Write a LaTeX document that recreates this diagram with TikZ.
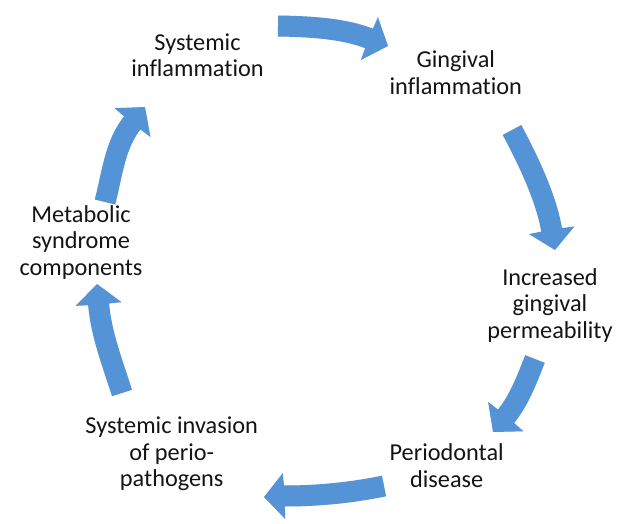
\documentclass[tikz,border=0pt]{standalone}
\usepackage{fontspec}
\setmainfont[Ligatures=NoCommon]{Carlito}
\usetikzlibrary{calc}
\definecolor{arrowblue}{RGB}{84,148,214}
\definecolor{txt}{RGB}{20,20,20}
\newcommand\cycarrow[5]{%
  \begin{scope}[shift={(1.5,2.5)}]
    \draw[shaft, draw=black, opacity=0.12] #1 .. controls #2 and #3 .. #4;
    \fill[black, opacity=0.12] ($#4!23pt!90:#5$) -- #5 -- ($#4!23pt!-90:#5$) -- cycle;
  \end{scope}
  \draw[shaft] #1 .. controls #2 and #3 .. #4;
  \fill[arrowblue] ($#4!-0.8pt!#5$) -- ($#4!23pt!90:#5$) -- #5 -- ($#4!23pt!-90:#5$) -- cycle;
}
\begin{document}
\begin{tikzpicture}[x=1pt,y=-1pt,
  lbl/.style={align=center, inner sep=0pt, anchor=base, text=txt, font=\fontsize{24.3}{26.5}\selectfont},
  shaft/.style={draw=arrowblue, line width=21pt, line cap=butt}
]
\useasboundingbox (0,0) rectangle (619,524);

% labels (anchored at the baseline of the last line)
\node[lbl] (n1) at (197.5,77) {Systemic\\inflammation};
\node[lbl] (n2) at (455.8,94.5) {Gingival\\inflammation};
\node[lbl] (n3) at (550,338.3) {Increased\\gingival\\permeability};
\node[lbl] (n4) at (446.7,487) {Periodontal\\disease};
\node[lbl] (n5) at (171.7,486.5) {Systemic invasion\\of perio-\\pathogens};
\node[lbl] (n6) at (81,275) {Metabolic\\syndrome\\components};

% arrow geometry
\coordinate (t1) at (278,26);  \coordinate (a1) at (308,26.5);
\coordinate (b1) at (343.4,28.2); \coordinate (e1) at (369.4,38.6); \coordinate (p1) at (388,46);
\coordinate (t2) at (512,130); \coordinate (a2) at (528.5,160.8);
\coordinate (b2) at (546.4,198.7); \coordinate (e2) at (551.7,230.3); \coordinate (p2) at (555,250);
\coordinate (t3) at (535,359); \coordinate (a3) at (526.9,379.5);
\coordinate (b3) at (518.6,401.2); \coordinate (e3) at (505.8,416.6); \coordinate (p3) at (493,432);
\coordinate (t4) at (384,486); \coordinate (a4) at (349.7,493);
\coordinate (b4) at (317,496); \coordinate (e4) at (284,496); \coordinate (p4) at (264,497);
\coordinate (t5) at (122,393); \coordinate (a5) at (113,364.5);
\coordinate (b5) at (101,334); \coordinate (e5) at (98.6,304); \coordinate (p5) at (97,284);
\coordinate (t6) at (105,202); \coordinate (a6) at (112.5,173);
\coordinate (b6) at (115,144.4); \coordinate (e6) at (132.5,122.6); \coordinate (p6) at (145,107);

\cycarrow{(t1)}{(a1)}{(b1)}{(e1)}{(p1)}
\cycarrow{(t2)}{(a2)}{(b2)}{(e2)}{(p2)}
\cycarrow{(t3)}{(a3)}{(b3)}{(e3)}{(p3)}
\cycarrow{(t4)}{(a4)}{(b4)}{(e4)}{(p4)}
\cycarrow{(t5)}{(a5)}{(b5)}{(e5)}{(p5)}
\cycarrow{(t6)}{(a6)}{(b6)}{(e6)}{(p6)}
\end{tikzpicture}
\end{document}
